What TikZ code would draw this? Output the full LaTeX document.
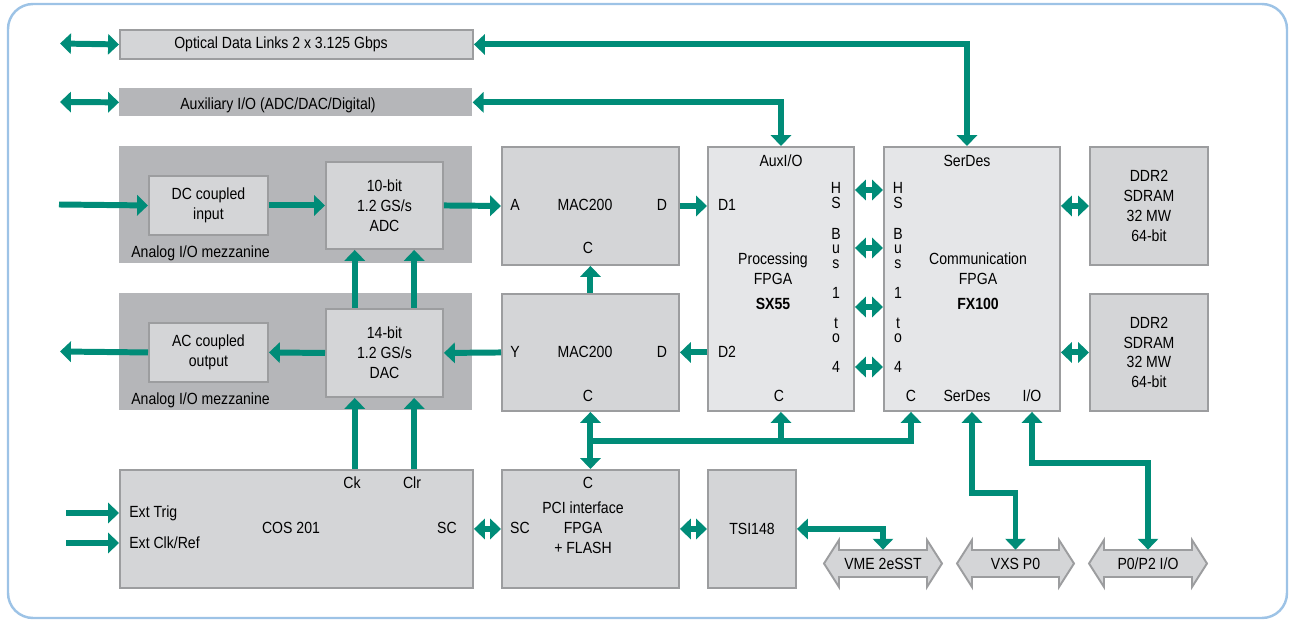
\documentclass[tikz,border=0pt]{standalone}
\usepackage{fontspec}
\setmainfont{Liberation Sans}[FakeStretch=0.87]
\usetikzlibrary{arrows.meta,calc,positioning}

\definecolor{linkgreen}{HTML}{008C78}
\definecolor{boxgray}{HTML}{D4D5D7}
\definecolor{boxline}{HTML}{9C9D9F}
\definecolor{fpgagray}{HTML}{E5E6E8}
\definecolor{mezzgray}{HTML}{B5B6B9}
\definecolor{frameblue}{HTML}{9DC3E6}

\tikzset{
  box/.style={draw=boxline, line width=1.1pt, fill=boxgray, inner sep=0pt, align=center},
  fpga/.style={box, fill=fpgagray},
  mezz/.style={fill=mezzgray, inner sep=0pt},
  sz/.style 2 args={minimum width=#1*0.02cm, minimum height=#2*0.02cm, anchor=north west},
  lbl/.style={inner sep=0pt, align=center},
  lnk/.style={draw=linkgreen, line width=3.4pt, ->},
  dlnk/.style={draw=linkgreen, line width=3.4pt, <->},
}

% busconn{name}{left tip}{right tip}{text}
\newcommand{\busconn}[4]{%
  \draw[box] (#2,563.5) -- (#2+15,540) -- (#2+15,550) -- (#3-15,550) -- (#3-15,540)
    -- (#3,563.5) -- (#3-15,587) -- (#3-15,577) -- (#2+15,577) -- (#2+15,587) -- cycle;
  \node[lbl, minimum height=27*0.02cm] (#1) at ({(#2+#3)/2},563.5) {#4};
}

\begin{document}
\begin{tikzpicture}[x=0.02cm,y=-0.02cm,line join=miter,
    font=\fontsize{9.2pt}{11.3pt}\selectfont,
    >={Triangle[length=6.2pt,width=11.5pt]}]
  \useasboundingbox (0,0) rectangle (1289,621);
  \draw[frameblue, line width=1.4pt, rounded corners=0.5cm] (8,4) rectangle (1287,618);

  % left column
  \node[box, sz={353}{29}] (optic) at (119,29) {};
  \node[lbl] (optictxt) at (281,44) {Optical Data Links 2 x 3.125 Gbps};
  \node[mezz, sz={353}{28}] (aux) at (119,88) {};
  \node[lbl] (auxtxt) at (278,105) {Auxiliary I/O (ADC/DAC/Digital)};
  \node[mezz, sz={353}{117}] (mezz1) at (119,146) {};
  \node[box, sz={119}{59}] (dcin) at (148,175) {DC coupled\\input};
  \node[box, sz={117}{87}] (adc) at (325,161) {10-bit\\1.2 GS/s\\ADC};
  \node[lbl, anchor=west] (mzlbl1) at (131,253) {Analog I/O mezzanine};
  \node[mezz, sz={353}{117}] (mezz2) at (119,293) {};
  \node[box, sz={119}{59}] (acout) at (148,322) {AC coupled\\output};
  \node[box, sz={117}{88}] (dac) at (325,308) {14-bit\\1.2 GS/s\\DAC};
  \node[lbl, anchor=west] (mzlbl2) at (131,400) {Analog I/O mezzanine};
  \node[box, sz={353}{118}] (cos) at (119,469) {};
  \node[lbl] (ck) at (352,483) {Ck};
  \node[lbl] (clr) at (412,483) {Clr};
  \node[lbl, anchor=west] (trig) at (129,513) {Ext Trig};
  \node[lbl, anchor=west] (clk) at (129,543) {Ext Clk/Ref};
  \node[lbl] (cosname) at (291,528) {COS 201};
  \node[lbl] (cossc) at (447,528) {SC};

  % MAC200 pair
  \node[box, sz={177}{118}] (mac1) at (501,146) {};
  \node[lbl] (maca) at (515,205) {A};
  \node[lbl] (macname1) at (585,205) {MAC200};
  \node[lbl] (macd1) at (662,205) {D};
  \node[lbl] (macc1) at (588,248) {C};
  \node[box, sz={177}{117}] (mac2) at (501,293) {};
  \node[lbl] (macy) at (515,352) {Y};
  \node[lbl] (macname2) at (585,352) {MAC200};
  \node[lbl] (macd2) at (662,352) {D};
  \node[lbl] (macc2) at (588,396) {C};

  % FPGAs
  \node[fpga, sz={146}{264}] (proc) at (707,146) {};
  \node[lbl] (auxio) at (781,161) {AuxI/O};
  \node[lbl] (pd1) at (727,205) {D1};
  \node[lbl] (pd2) at (727,352) {D2};
  \node[lbl] (procname) at (773,268.5) {Processing\\FPGA};
  \node[lbl] (procsx) at (773,304) {\textbf{SX55}};
  \node[lbl] (pc) at (779,396) {C};
  \node[fpga, sz={176}{264}] (comm) at (883,146) {};
  \node[lbl] (sdtop) at (967,161) {SerDes};
  \node[lbl] (commname) at (978,268.5) {Communication\\FPGA};
  \node[lbl] (commfx) at (978,304) {\textbf{FX100}};
  \node[lbl] (cc) at (911,396) {C};
  \node[lbl] (sdbot) at (967,396) {SerDes};
  \node[lbl] (cio) at (1032,396) {I/O};
  \foreach \c/\y in {H/188,S/203,B/234,u/249,s/264,1/293,t/323,o/338,4/367} {
    \node[lbl] (phs\y) at (836,\y) {\c};
    \node[lbl] (chs\y) at (898,\y) {\c};
  }
  \node[box, sz={118}{118}] (ddr1) at (1089,146) {DDR2\\SDRAM\\32 MW\\64-bit};
  \node[box, sz={118}{117}] (ddr2) at (1089,293) {DDR2\\SDRAM\\32 MW\\64-bit};

  % bottom row
  \node[box, sz={177}{118}] (pci) at (501,469) {};
  \node[lbl] (pcic) at (588,483) {C};
  \node[lbl] (pcisc) at (520,528) {SC};
  \node[lbl] (pciname) at (583,528) {PCI interface\\FPGA\\+ FLASH};
  \node[box, sz={88}{118}] (tsi) at (707,469) {TSI148};
  \busconn{vme}{824}{942}{VME 2eSST}
  \busconn{vxs}{957}{1074}{VXS P0}
  \busconn{pzero}{1089}{1207}{P0/P2 I/O}

  % free ends
  \coordinate (optL) at (60,43.5);
  \coordinate (auxL) at (60,102);
  \coordinate (inL) at (59,204.5);
  \coordinate (outL) at (60,351.5);
  \coordinate (trigL) at (66,513);
  \coordinate (clkL) at (66,543);

  % links
  \draw[dlnk] (optic.west) -- (optL);
  \draw[dlnk] (aux.west) -- (auxL);
  \draw[dlnk] (optic.east) -| (comm.north -| sdtop);
  \draw[dlnk] (aux.east) -| (proc.north -| auxio);
  \draw[lnk] (inL) -- (dcin.west);
  \draw[lnk] (dcin.east) -- (adc.west);
  \draw[lnk] (adc.east) -- (mac1.west);
  \draw[lnk] (acout.west) -- (outL);
  \draw[lnk] (dac.west) -- (acout.east);
  \draw[lnk] (mac2.west) -- (dac.east);
  \foreach \f in {0.25,0.75} {
    \coordinate (dpin) at ($(dac.south west)!\f!(dac.south east)$);
    \draw[lnk] ($(dac.north west)!\f!(dac.north east)$) -- ($(adc.south west)!\f!(adc.south east)$);
    \draw[lnk] (cos.north -| dpin) -- (dpin);
  }
  \draw[lnk] (trigL) -- (trigL -| cos.west);
  \draw[lnk] (clkL) -- (clkL -| cos.west);
  \draw[dlnk] (cos.east) -- (pci.west);
  \draw[lnk] (mac2.north) -- (mac1.south);
  \draw[lnk] (mac1.east) -- (mac1.east -| proc.west);
  \draw[lnk] (proc.west |- mac2.east) -- (mac2.east);
  \foreach \y in {190,248,307,367}
    \draw[dlnk] (proc.east |- 0,\y) -- (comm.west |- 0,\y);
  \draw[dlnk] (comm.east |- ddr1.west) -- (ddr1.west);
  \draw[dlnk] (comm.east |- ddr2.west) -- (ddr2.west);
  \draw[dlnk] (mac2.south) -- (pci.north);
  \draw[lnk] (mac2.south |- 0,441) -| (comm.south -| cc);
  \draw[lnk] (proc.south |- 0,441) -- (proc.south);
  \draw[dlnk] (pci.east) -- (tsi.west);
  \draw[dlnk] (tsi.east) -| (vme.north);
  \draw[dlnk] (comm.south) -- ++(0,81) -| (vxs.north);
  \draw[dlnk] (comm.south -| cio) -- ++(0,51) -| (pzero.north);
\end{tikzpicture}
\end{document}
